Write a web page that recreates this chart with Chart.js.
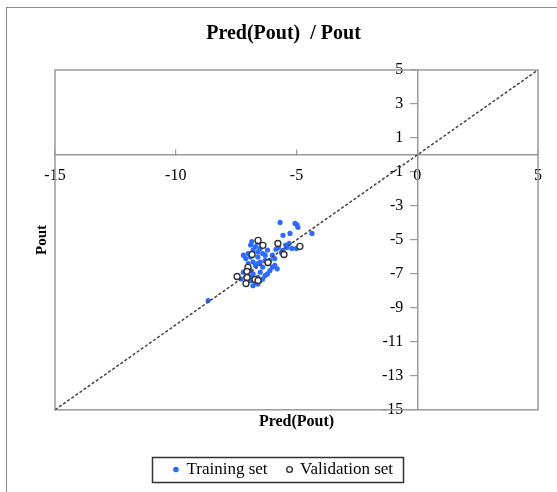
<!DOCTYPE html>
<html>
<head>
<meta charset="utf-8">
<script src="https://cdn.jsdelivr.net/npm/chart.js@4.4.0/dist/chart.umd.min.js"></script>
<style>
  html, body { margin: 0; padding: 0; background: #fff; }
  #wrap { position: relative; width: 557px; height: 492px; overflow: hidden; }
  canvas { display: block; }
</style>
</head>
<body>
<div id="wrap"><canvas id="c" width="557" height="492"></canvas></div>
<script>
// ---- data ----
const trainingSet = [
  [-5.68,-3.97],[-5.06,-4.03],[-4.94,-4.26],[-4.98,-4.12],[-5.27,-4.62],[-5.56,-4.73],[-4.36,-4.62],
  [-5.39,-5.44],[-5.19,-5.50],[-5.56,-5.62],[-5.45,-5.30],[-5.30,-5.20],[-5.75,-5.45],[-5.62,-5.75],
  [-5.85,-5.55],[-5.00,-5.50],[-8.66,-8.57],
  [-6.90,-5.30],[-6.70,-5.40],[-6.50,-5.50],[-6.60,-5.70],[-6.80,-5.60],[-7.00,-5.80],[-6.40,-5.80],
  [-6.20,-5.60],[-6.30,-5.90],[-6.90,-6.00],[-7.10,-6.10],[-6.60,-6.00],[-6.00,-5.90],[-6.10,-6.20],
  [-6.50,-6.30],[-6.80,-6.30],[-7.00,-6.40],[-6.70,-6.50],[-6.40,-6.60],[-6.20,-6.40],[-5.90,-6.50],
  [-5.80,-6.70],[-6.10,-6.80],[-6.50,-6.90],[-6.90,-6.80],[-7.20,-6.90],[-7.00,-7.10],[-6.80,-7.00],
  [-6.60,-7.20],[-6.30,-7.10],[-6.90,-7.40],[-6.70,-7.50],[-7.10,-7.60],[-6.50,-7.40],[-6.80,-7.70],
  [-6.60,-7.60],[-6.90,-7.20],[-7.30,-7.30],[-6.30,-6.20],[-6.60,-6.40],[-5.90,-6.10],[-6.00,-6.60],
  [-6.20,-7.00],[-6.40,-7.30],[-7.20,-5.90],[-6.85,-5.10],[-6.60,-5.15]
];
const validationSet = [
  [-6.59,-5.03],[-6.39,-5.32],[-5.77,-5.21],[-4.86,-5.38],[-6.84,-5.86],[-5.52,-5.86],
  [-6.18,-6.33],[-7.01,-6.62],[-7.05,-6.86],[-7.46,-7.15],[-7.05,-7.21],[-6.72,-7.33],
  [-6.59,-7.39],[-7.09,-7.57]
];
const identityLine = [[-15,-15],[5,5]];
const xTicks = [-15,-10,-5,0,5];
const yTicks = [-15,-13,-11,-9,-7,-5,-3,-1,1,3,5];
const seriesNames = ['Training set','Validation set'];
const chartTitle = 'Pred(Pout)  / Pout';
const xTitle = 'Pred(Pout)';
const yTitle = 'Pout';

const toXY = a => a.map(p => ({x: p[0], y: p[1]}));
const FONT = "'Liberation Serif', 'Times New Roman', serif";
const GRAY = '#9a9a9a';

const framePlugin = {
  id: 'frame',
  beforeDraw(chart) {
    const ctx = chart.ctx;
    ctx.save();
    ctx.strokeStyle = '#8c8c8c';
    ctx.lineWidth = 1;
    ctx.strokeRect(6.5, 7.5, 600, 600);
    ctx.restore();
  },
  beforeDatasetsDraw(chart) {
    const a = chart.chartArea, ctx = chart.ctx;
    ctx.save();
    ctx.strokeStyle = GRAY;
    ctx.lineWidth = 1.5;
    ctx.strokeRect(a.left, a.top, a.right - a.left, a.bottom - a.top);
    ctx.restore();
  },
  afterDraw(chart) {
    const lg = chart.legend;
    if (!lg || !lg.legendHitBoxes || !lg.legendHitBoxes.length) return;
    let l = Infinity, r = -Infinity, t = Infinity, b = -Infinity;
    lg.legendHitBoxes.forEach(h => {
      l = Math.min(l, h.left); r = Math.max(r, h.left + h.width);
      t = Math.min(t, h.top); b = Math.max(b, h.top + h.height);
    });
    const cy = (t + b) / 2;
    const ctx = chart.ctx;
    ctx.save();
    ctx.strokeStyle = '#333';
    ctx.lineWidth = 1.5;
    const x0 = Math.round(l - 22) + 0.5, y0 = Math.round(cy - 13) + 0.5;
    ctx.strokeRect(x0, y0, Math.round(r + 10) - Math.round(l - 22), 25);
    ctx.restore();
  }
};

function shiftLabels(dx, dy) {
  return function (s) {
    const orig = Object.getPrototypeOf(s).getLabelItems;
    s.getLabelItems = function (area) {
      const items = orig.call(this, area);
      if (!items._shifted) {
        items.forEach(it => {
          const t = it.options.translation;
          it.options.translation = [t[0] + dx, t[1] + dy];
        });
        items._shifted = true;
      }
      return items;
    };
  };
}

new Chart(document.getElementById('c'), {
  type: 'scatter',
  data: {
    datasets: [
      {
        label: '',
        data: toXY(identityLine),
        showLine: true,
        borderColor: '#444',
        borderWidth: 1.5,
        borderDash: [3, 2],
        pointRadius: 0,
        xAxisID: 'x', yAxisID: 'y'
      },
      {
        label: seriesNames[1],
        data: toXY(validationSet),
        pointStyle: 'circle',
        pointRadius: 3,
        borderColor: '#333',
        borderWidth: 1.4,
        backgroundColor: '#fff',
        xAxisID: 'x', yAxisID: 'y'
      },
      {
        label: seriesNames[0],
        data: toXY(trainingSet),
        pointStyle: 'circle',
        pointRadius: 2.6,
        borderWidth: 0,
        borderColor: '#2d6bff',
        backgroundColor: '#2d6bff',
        xAxisID: 'x', yAxisID: 'y'
      }
    ]
  },
  options: {
    responsive: false,
    animation: false,
    devicePixelRatio: 1,
    layout: { padding: { left: 29, right: 19, top: 0, bottom: 4 } },
    plugins: {
      tooltip: { enabled: false },
      title: {
        display: true,
        text: chartTitle,
        color: '#000',
        font: { family: FONT, size: 20, weight: 'bold' },
        padding: { top: 22, bottom: 24 }
      },
      legend: {
        position: 'bottom',
        reverse: true,
        labels: {
          filter: item => item.text !== '',
          usePointStyle: true,
          boxWidth: 4,
          boxHeight: 4,
          color: '#000',
          padding: 20,
          font: { family: FONT, size: 17 }
        }
      }
    },
    scales: {
      x: {
        type: 'linear',
        position: { y: 0 },
        min: -15, max: 5,
        afterBuildTicks: s => { s.ticks = xTicks.map(v => ({value: v})); },
        afterUpdate: shiftLabels(0, 12),
        border: { display: true, color: GRAY, width: 1.5 },
        grid: { display: true, drawOnChartArea: false, drawTicks: true, tickLength: -6, color: GRAY, lineWidth: 1.2 },
        ticks: { color: '#000', font: { family: FONT, size: 16 }, padding: 5, maxRotation: 0, autoSkip: false }
      },
      y: {
        type: 'linear',
        position: { x: 0 },
        min: -15, max: 5,
        afterBuildTicks: s => { s.ticks = yTicks.map(v => ({value: v})); },
        afterUpdate: shiftLabels(-14, 0),
        border: { display: true, color: GRAY, width: 1.5 },
        grid: { display: true, drawOnChartArea: false, drawTicks: true, tickLength: 7, color: GRAY, lineWidth: 1.2 },
        ticks: { color: '#000', font: { family: FONT, size: 16 }, padding: 10, autoSkip: false }
      },
      xb: {
        type: 'linear',
        position: 'bottom',
        min: 0, max: 1,
        ticks: { display: false },
        grid: { display: false, drawTicks: false },
        border: { display: false },
        title: { display: true, text: xTitle, color: '#000', font: { family: FONT, size: 16, weight: 'bold' }, padding: { top: 2, bottom: 10 } }
      },
      yl: {
        type: 'linear',
        position: 'left',
        min: 0, max: 1,
        ticks: { display: false },
        grid: { display: false, drawTicks: false },
        border: { display: false },
        title: { display: true, text: yTitle, color: '#000', font: { family: FONT, size: 15, weight: 'bold' }, padding: 4 }
      }
    }
  },
  plugins: [framePlugin]
});
</script>
</body>
</html>
